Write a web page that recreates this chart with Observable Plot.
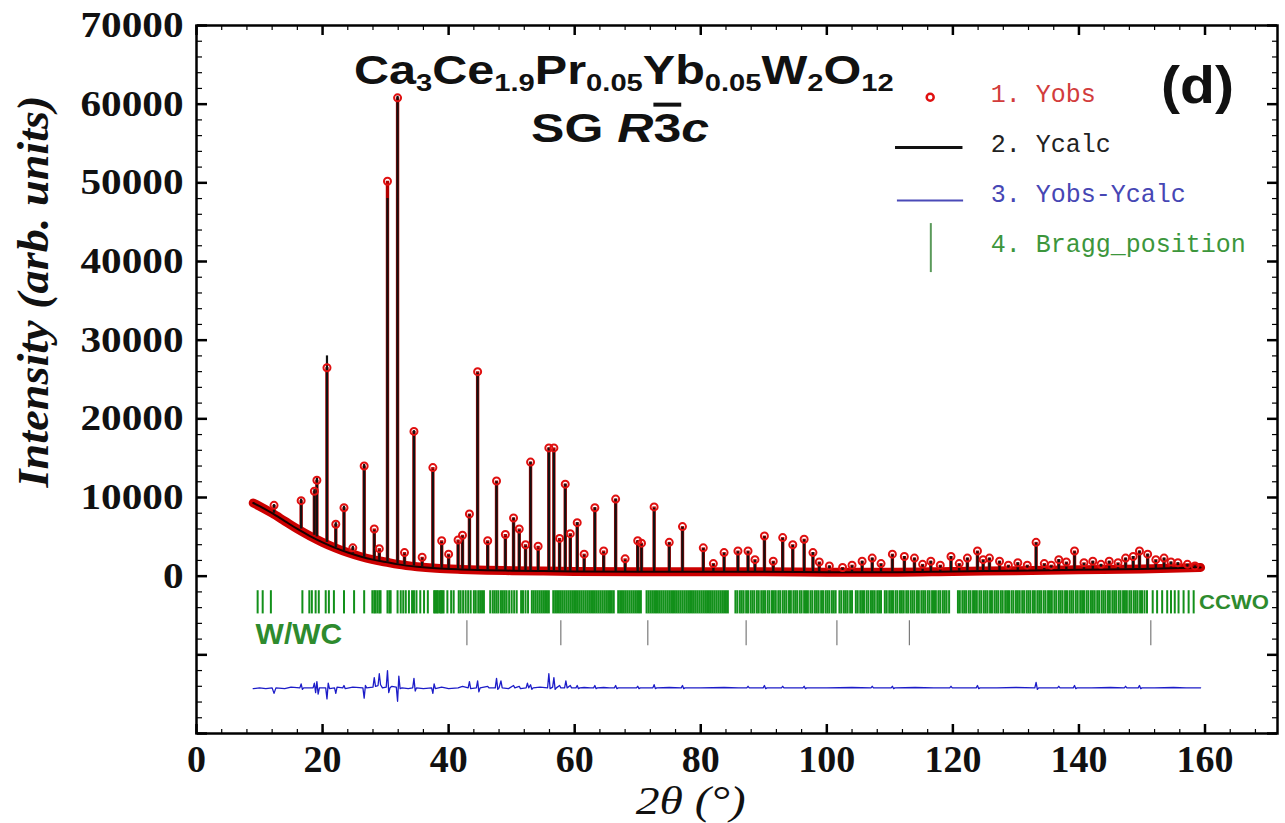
<!DOCTYPE html>
<html><head><meta charset="utf-8">
<script src="https://cdn.jsdelivr.net/npm/d3@7"></script>
<script src="https://cdn.jsdelivr.net/npm/@observablehq/plot@0.6"></script>
<style>html,body{margin:0;padding:0;background:#fff;overflow:hidden}</style>
</head><body><div id="chart"></div>
<script>
// ---------------- data ----------------
// background of the pattern: [2theta, intensity]
const background = [[9,9300],[10,8900],[12,8000],[14,7000],[16,6000],[18,5100],[20,4300],[22,3600],[24,3000],[26,2500],[28,2100],[30,1800],[32,1500],[35,1200],[38,1000],[42,850],[46,750],[50,700],[55,650],[60,600],[70,550],[80,550],[90,550],[100,500],[110,500],[120,600],[130,700],[140,800],[150,900],[159.3,1100]];
// peaks: [2theta, base, Ycalc top, Yobs top]
const peaks = [[12.3,8000,9100,9000],[16.6,6000,9800,9600],[18.7,5200,11000,10800],[19.1,5000,12500,12200],[20.7,4300,28000,26500],[22.1,3600,6800,6600],[23.4,3200,8900,8700],[24.8,2800,3800,3600],[26.6,2400,14200,14000],[28.2,2100,5800,6000],[29.0,2000,3200,3500],[30.3,1800,48000,50200],[31.9,1500,61000,60800],[33.0,1400,2800,3000],[34.5,1300,18500,18400],[35.8,1200,2200,2400],[37.5,1100,13500,13800],[38.9,1000,4300,4500],[40.0,950,2600,2800],[41.5,900,4300,4600],[42.2,880,5000,5200],[43.3,850,7800,7900],[44.6,800,25800,26000],[46.2,750,4300,4500],[47.6,740,12000,12100],[49.0,720,5000,5300],[50.3,700,7400,7400],[51.2,690,5800,6000],[52.2,680,3800,4000],[53.0,670,14500,14500],[54.2,660,3500,3800],[55.9,650,16300,16300],[56.7,640,16000,16300],[57.6,630,4500,4800],[58.5,620,11700,11700],[59.3,610,5200,5400],[60.4,600,6800,6800],[61.5,595,2600,2800],[63.2,590,8700,8700],[64.6,585,3000,3200],[66.5,580,9800,9800],[68.0,575,2000,2200],[70.0,570,4500,4500],[70.6,570,4000,4200],[72.6,565,8600,8800],[75.0,560,4200,4300],[77.1,555,6200,6300],[80.4,550,3500,3600],[82.0,550,1500,1600],[83.7,550,2900,3000],[85.9,550,3100,3200],[87.5,550,3100,3200],[88.6,550,2000,2100],[90.1,550,5000,5100],[91.5,550,1800,1900],[93.0,550,4800,4900],[94.6,540,3900,4000],[96.4,530,4600,4700],[97.8,520,3000,3000],[98.8,510,1700,1800],[100.4,500,1300,1300],[102.5,500,1000,1100],[104.0,500,1300,1400],[105.6,500,1900,1900],[107.2,500,2300,2300],[108.6,500,1500,1600],[110.4,500,2700,2800],[112.3,520,2500,2500],[113.9,540,2300,2300],[115.2,560,1400,1500],[116.5,580,1900,1900],[118.0,590,1300,1400],[119.7,600,2500,2500],[121.0,620,1500,1600],[122.3,640,2300,2300],[123.9,660,3100,3200],[124.8,670,2000,2100],[125.8,680,2300,2300],[127.4,700,1900,1900],[128.8,710,1300,1400],[130.3,720,1700,1700],[131.8,730,1300,1400],[133.2,740,4200,4300],[134.5,750,1500,1600],[135.6,760,1300,1400],[136.8,770,2100,2100],[138.0,780,1700,1800],[139.3,800,3100,3200],[140.8,810,1600,1700],[142.2,820,1900,1900],[143.5,830,1500,1500],[144.8,840,1900,1900],[146.2,860,1600,1700],[147.4,870,2300,2300],[148.6,880,2500,2500],[149.6,890,3200,3200],[150.9,900,2800,2800],[152.2,920,2000,2100],[153.5,940,2300,2300],[154.6,960,1800,1800],[155.7,980,1700,1700],[157.2,1000,1500,1500],[158.4,1050,1300,1300]];
// Yobs - Ycalc (offset curve): [2theta, value]
const difference = [[9.0,-14300],[10.0,-14200],[11.0,-14300],[12.0,-14200],[12.3,-14900],[12.6,-14200],[14.0,-14300],[15.0,-14100],[16.4,-14200],[16.6,-13700],[16.8,-14400],[17.0,-14200],[18.5,-14200],[18.7,-13600],[18.9,-14800],[19.1,-13400],[19.3,-15000],[19.5,-14200],[20.5,-14200],[20.7,-15600],[20.9,-13600],[21.1,-14300],[21.9,-14200],[22.1,-14900],[22.3,-14100],[23.2,-14200],[23.4,-13900],[23.6,-14300],[24.8,-14100],[26.4,-14200],[26.6,-15500],[26.8,-13900],[27.0,-14200],[28.0,-14100],[28.2,-12900],[28.4,-14000],[28.8,-13900],[29.0,-12400],[29.2,-13800],[29.5,-14200],[30.1,-14100],[30.3,-12000],[30.5,-14800],[30.7,-14200],[31.0,-14000],[31.7,-14100],[31.9,-15900],[32.1,-12700],[32.3,-14300],[32.6,-14200],[33.6,-14300],[34.3,-14200],[34.5,-13000],[34.7,-14600],[34.9,-14200],[36.0,-14300],[37.3,-14200],[37.5,-14900],[37.7,-13700],[37.9,-14300],[38.9,-14100],[40.0,-14300],[41.5,-14200],[42.2,-14000],[43.1,-14200],[43.3,-13400],[43.5,-14300],[44.4,-14200],[44.6,-13300],[44.8,-14700],[45.0,-14200],[46.2,-14000],[46.4,-14200],[47.4,-14200],[47.6,-13000],[47.8,-14400],[48.0,-14200],[48.3,-13300],[48.5,-14200],[49.5,-14300],[50.3,-13900],[50.5,-14200],[51.2,-14000],[51.4,-14300],[52.3,-14200],[52.5,-13600],[52.7,-14200],[53.0,-13800],[53.2,-14400],[53.4,-14200],[54.5,-14100],[55.7,-14200],[55.9,-12400],[56.1,-14300],[56.5,-14100],[56.7,-12900],[56.9,-14400],[57.1,-14200],[57.6,-13900],[57.8,-14200],[58.4,-14200],[58.6,-13300],[58.8,-14200],[59.3,-13900],[59.5,-14200],
[60.2,-14200],[60.4,-13900],[60.6,-14300],[60.8,-14200],[61.5,-14150],[62.5,-14200],[63.0,-14200],[63.2,-13900],[63.4,-14300],[63.6,-14200],[64.6,-14150],[65.5,-14200],[66.3,-14200],[66.5,-13900],[66.7,-14300],[66.9,-14200],[68.0,-14200],[69.8,-14200],[70.0,-14000],[70.2,-14300],[70.4,-14200],[72.4,-14200],[72.6,-13800],[72.8,-14300],[73.0,-14200],[75.0,-14150],[76.9,-14200],[77.1,-13900],[77.3,-14300],[77.5,-14200],[80.0,-14200],[83.7,-14150],[86.0,-14200],[87.3,-14200],[87.5,-14000],[87.7,-14200],[89.9,-14200],[90.1,-13900],[90.3,-14300],[90.5,-14200],[92.8,-14200],[93.0,-14000],[93.2,-14200],[96.2,-14200],[96.4,-14000],[96.6,-14300],[96.8,-14200],[100,-14200],[104,-14150],[107.0,-14200],[107.2,-14000],[107.4,-14200],[110.2,-14200],[110.4,-14000],[110.6,-14300],[110.8,-14200],[114,-14150],[117,-14200],[119.5,-14200],[119.7,-14000],[119.9,-14200],[123.7,-14200],[123.9,-13900],[124.1,-14300],[124.3,-14200],[127,-14200],[130,-14150],[133.0,-14200],[133.2,-13500],[133.4,-14400],[133.6,-14200],[136.6,-14200],[136.8,-14000],[137.0,-14200],[139.1,-14200],[139.3,-13900],[139.5,-14300],[139.7,-14200],[142,-14200],[145,-14150],[147.2,-14200],[147.4,-14000],[147.6,-14200],[149.4,-14200],[149.6,-13900],[149.8,-14300],[150.0,-14200],[152,-14200],[155,-14150],[157,-14200],[159.3,-14200]];
// Bragg positions
const braggCCWO = [9.7,10.5,11.8,16.8,17.9,18.3,18.9,19.4,20.5,21.0,21.8,23.4,25.0,26.6,27.9,28.2,28.4,28.7,29.0,29.2,30.3,30.6,30.8,31.9,32.4,32.8,33.2,33.7,34.2,34.5,34.9,35.5,36.1,36.7,37.7,37.9,38.1,38.3,38.6,38.8,39.0,39.2,39.8,40.4,40.8,
41.6,41.9,42.3,42.7,43.1,43.5,44.0,44.3,44.7,45.0,45.3,45.6,46.6,47.0,47.3,47.6,47.9,48.3,48.6,48.9,49.2,49.6,50.0,50.4,50.8,51.5,51.8,52.2,52.6,53.2,53.5,53.8,54.1,54.4,54.7,55.0,55.3,55.6,55.9,56.6,56.9,57.2,57.5,57.8,58.1,58.4,58.7,59.0,59.3,59.6,59.9,60.2,60.5,60.8,61.1,61.4,61.7,62.0,62.3,62.6,62.9,63.2,63.5,63.8,64.1,64.4,64.7,65.0,65.3,65.6,65.9,66.2,66.9,67.2,67.5,67.8,68.1,68.4,68.7,69.0,69.3,69.6,69.9,70.2,70.5,71.4,71.7,72.0,72.3,72.6,72.9,73.2,73.5,73.8,74.1,74.4,74.7,75.0,75.3,75.6,75.9,76.2,76.5,76.8,77.1,77.4,77.7,78.0,78.3,78.6,78.9,79.2,79.5,79.8,80.1,80.4,80.7,81.0,81.3,81.6,81.9,82.2,82.5,82.8,83.1,83.4,83.7,84.0,84.3,
85.5,85.8,86.2,86.5,86.8,87.2,87.5,87.9,88.2,88.5,88.9,89.2,89.6,89.9,90.2,90.6,90.9,91.3,91.6,91.9,92.3,92.6,93.0,93.3,93.6,94.0,94.3,94.7,95.0,95.3,95.7,96.0,96.4,96.7,97.0,97.4,97.7,98.1,98.4,98.7,99.1,99.4,99.8,100.1,100.4,100.8,101.1,101.4,
102.0,102.3,102.7,103.0,103.3,103.7,104.0,104.6,104.9,105.3,105.6,105.9,106.3,106.6,107.0,107.3,107.6,108.0,108.3,108.6,
109.2,109.5,109.9,110.2,110.5,110.9,111.2,111.6,111.9,112.2,112.6,112.9,113.3,113.6,113.9,114.3,114.6,115.0,115.3,115.6,116.0,116.3,116.7,117.0,117.3,117.7,118.0,118.4,118.7,119.0,119.4,
120.8,121.1,121.5,121.8,122.1,122.5,122.8,123.2,123.5,123.8,124.2,124.5,124.9,125.2,125.5,125.9,126.2,126.6,126.9,127.2,127.6,127.9,128.3,128.6,128.9,129.3,129.6,130.0,130.3,130.6,131.0,131.3,131.7,132.0,132.3,132.7,133.0,133.4,133.7,134.0,134.4,134.7,135.1,135.4,135.7,136.1,136.4,136.8,137.1,137.4,137.8,138.1,138.5,138.8,139.1,139.5,139.8,140.2,140.5,140.8,141.2,141.5,141.9,142.2,142.5,142.9,143.2,143.6,143.9,144.2,144.6,144.9,145.3,145.6,145.9,146.3,146.6,147.0,147.3,147.6,148.0,148.3,148.7,149.0,149.3,149.7,150.0,150.4,150.8,
151.7,152.4,153.2,154.0,154.6,155.2,155.8,156.6,157.4,158.2];
const braggW = [42.9,57.8,71.6,87.2,101.6,113.1,151.4];
// ticks and labels
const xTickLabels = [0,20,40,60,80,100,120,140,160];
const yTickLabels = [0,10000,20000,30000,40000,50000,60000,70000];
const yMajorTicks = [-20000,-10000,0,10000,20000,30000,40000,50000,60000,70000];
const xMinorTicks = d3.range(0, 172, 4);
const yMinorTicks = d3.range(-20000, 70001, 2000);
// texts
const formulaParts = [["Ca",""],["3","sub"],["Ce",""],["1.9","sub"],["Pr",""],["0.05","sub"],["Yb",""],["0.05","sub"],["W",""],["2","sub"],["O",""],["12","sub"]];
const formulaText = formulaParts.map(p => p[0]).join("");
const groupParts = [["SG ",""],["R","it"],["3","ol"],["c","it"]];
const groupText = groupParts.map(p => p[0]).join("");
const legendLabels = ["1. Yobs","2. Ycalc","3. Yobs-Ycalc","4. Bragg_position"];
const phaseLabels = ["CCWO","W/WC"];
const panelLabel = "(d)";
const xTitle = "2\u03b8 (\u00b0)";
const yTitle = "Intensity (arb. units)";

// ---------------- chart ----------------
const serif = "'Liberation Serif','Times New Roman',serif";
const sans = "'Liberation Sans',Arial,sans-serif";
const mono = "'Liberation Mono','Courier New',monospace";
const RED = "#cc0000", GREEN = "#12901a", BLUE = "#1c1cc8";

const chart = Plot.plot({
  width: 1285, height: 823,
  marginLeft: 196, marginRight: 8, marginTop: 25, marginBottom: 90,
  x: {domain: [0, 171.5], axis: null},
  y: {domain: [-20000, 70000], axis: null},
  style: {background: "white", overflow: "visible"},
  marks: [
    // Bragg rows
    Plot.ruleX(braggCCWO, {x: d => d, y1: -1850, y2: -4800, stroke: GREEN, strokeWidth: 2}),
    Plot.ruleX(braggW, {x: d => d, y1: -5670, y2: -8850, stroke: "#7a7a7a", strokeWidth: 1.2}),
    // difference
    Plot.line(difference, {x: d => d[0], y: d => d[1], stroke: BLUE, strokeWidth: 1.3}),
    // observed band and peaks
    Plot.line(background, {x: d => d[0], y: d => d[1], stroke: RED, strokeWidth: 9, curve: "monotone-x"}),
    Plot.ruleX(peaks, {x: d => d[0], y1: d => d[1], y2: d => d[3], stroke: "#b00000", strokeWidth: 3.4}),
    Plot.line(background, {x: d => d[0], y: d => d[1], stroke: "#1a0000", strokeWidth: 2, curve: "monotone-x"}),
    Plot.ruleX(peaks, {x: d => d[0], y1: d => d[1], y2: d => d[2], stroke: "#111", strokeWidth: 2.2}),
    Plot.dot(peaks, {x: d => d[0], y: d => d[3], r: 3.5, stroke: "#e01010", strokeWidth: 2, fill: "none"}),
    // phase labels
    Plot.text([phaseLabels[0]], {x: 164.6, y: -3345, text: d => d, fontFamily: sans, fontWeight: "bold", fontSize: 21, fill: "#2e8b2e", textAnchor: "middle"}),
    Plot.text([phaseLabels[1]], {x: 16.25, y: -7450, text: d => d, fontFamily: sans, fontWeight: "bold", fontSize: 30, fill: "#2e8b2e", textAnchor: "middle"}),
    // title
    Plot.text([formulaText], {x: 67.8, y: 64150, text: d => d, fontFamily: sans, fontWeight: "bold", fontSize: 40, fill: "#111", textAnchor: "middle"}),
    Plot.text([groupText], {x: 67.2, y: 56770, text: d => d, fontFamily: sans, fontWeight: "bold", fontSize: 40, fill: "#111", textAnchor: "middle"}),
    Plot.text([panelLabel], {x: 158.8, y: 62240, text: d => d, fontFamily: sans, fontWeight: "bold", fontSize: 52, fill: "#111", textAnchor: "middle"}),
    // legend
    Plot.dot([0], {x: 116.4, y: 60880, r: 3.5, stroke: "#e01010", strokeWidth: 2.5, fill: "none"}),
    Plot.ruleY([54480], {x1: 110.9, x2: 121.6, stroke: "#111", strokeWidth: 3}),
    Plot.ruleY([47740], {x1: 111.2, x2: 121.7, stroke: "#4a4ab8", strokeWidth: 2}),
    Plot.ruleX([116.5], {y1: 38590, y2: 44820, stroke: "#5a9a5a", strokeWidth: 2}),
    Plot.text([legendLabels[0]], {x: 126, y: 61350, text: d => d, fontFamily: mono, fontSize: 25, fill: "#d23c3c", textAnchor: "start"}),
    Plot.text([legendLabels[1]], {x: 126, y: 54990, text: d => d, fontFamily: mono, fontSize: 25, fill: "#222", textAnchor: "start"}),
    Plot.text([legendLabels[2]], {x: 126, y: 48640, text: d => d, fontFamily: mono, fontSize: 25, fill: "#4646b4", textAnchor: "start"}),
    Plot.text([legendLabels[3]], {x: 126, y: 42280, text: d => d, fontFamily: mono, fontSize: 25, fill: "#3c963c", textAnchor: "start"}),
    // axis titles
    Plot.text([yTitle], {x: -25.8, y: 36190, text: d => d, rotate: -90, fontFamily: serif, fontWeight: "bold", fontStyle: "italic", fontSize: 44, fill: "#111", textAnchor: "middle"}),
    Plot.text([xTitle], {x: 78.4, y: -28560, text: d => d, fontFamily: serif, fontStyle: "italic", fontSize: 40, fill: "#111", textAnchor: "middle"}),
    // inward ticks
    Plot.axisX(xMinorTicks, {anchor: "top", frameAnchor: "bottom", tickSize: 5, text: null, label: null, strokeWidth: 1.2}),
    Plot.axisX(xMinorTicks, {anchor: "bottom", frameAnchor: "top", tickSize: 5, text: null, label: null, strokeWidth: 1.2}),
    Plot.axisX(xTickLabels, {anchor: "top", frameAnchor: "bottom", tickSize: 10, text: null, label: null, strokeWidth: 2.5}),
    Plot.axisX(xTickLabels, {anchor: "bottom", frameAnchor: "top", tickSize: 10, text: null, label: null, strokeWidth: 2.5}),
    Plot.axisY(yMinorTicks, {anchor: "right", frameAnchor: "left", tickSize: 5, text: null, label: null, strokeWidth: 1.2}),
    Plot.axisY(yMinorTicks, {anchor: "left", frameAnchor: "right", tickSize: 5, text: null, label: null, strokeWidth: 1.2}),
    Plot.axisY(yMajorTicks, {anchor: "right", frameAnchor: "left", tickSize: 10, text: null, label: null, strokeWidth: 2.5}),
    Plot.axisY(yMajorTicks, {anchor: "left", frameAnchor: "right", tickSize: 10, text: null, label: null, strokeWidth: 2.5}),
    // tick labels
    Plot.axisX(xTickLabels, {anchor: "bottom", tickSize: 0, tickPadding: 12, label: null, tickFormat: d => String(d), fontFamily: serif, fontWeight: "bold", fontSize: 38, fill: "#111"}),
    Plot.axisY(yTickLabels, {anchor: "left", tickSize: 0, tickPadding: 13, label: null, tickFormat: d => String(d), fontFamily: serif, fontWeight: "bold", fontSize: 36, fill: "#111"}),
    Plot.frame({stroke: "#000", strokeWidth: 2.5})
  ]
});
document.getElementById("chart").append(chart);

// ---------------- rich text & width fitting ----------------
const svg = d3.select(chart);
function findText(str) { return svg.selectAll("text").filter(function () { return this.textContent === str; }); }
function richify(plain, parts, subSize) {
  findText(plain).each(function () {
    const t = d3.select(this); t.text(null);
    let shifted = false;
    for (const [s, k] of parts) {
      const ts = t.append("tspan").text(s);
      if (k === "sub") { ts.attr("font-size", subSize).attr("dy", shifted ? 0 : 7); shifted = true; }
      else {
        if (shifted) ts.attr("dy", -7); shifted = false;
        if (k === "it") ts.attr("font-style", "italic");
        if (k === "ol") ts.style("text-decoration", "overline").style("text-decoration-thickness", "4px");
      }
    }
  });
}
function stretchEl(el, f) { el.setAttribute("transform", (el.getAttribute("transform") || "") + ` scale(${f},1)`); }
function stretchTo(sel, target) { sel.each(function () { const w = this.getBBox().width; if (w > 0) stretchEl(this, target / w); }); }

richify(formulaText, formulaParts, 24);
richify(groupText, groupParts, 24);
stretchTo(findText(formulaText), 540);
stretchTo(findText(groupText), 178);
stretchTo(findText(panelLabel), 73);
stretchTo(findText(phaseLabels[0]), 70);
stretchTo(findText(yTitle), 393);
stretchTo(findText(xTitle), 110);
const yLabels = svg.selectAll('g[aria-label="y-axis tick label"] text');
let fy = 1;
yLabels.each(function () { if (this.textContent === "70000") fy = 103 / this.getBBox().width; });
yLabels.each(function () { stretchEl(this, fy); });
</script></body></html>
